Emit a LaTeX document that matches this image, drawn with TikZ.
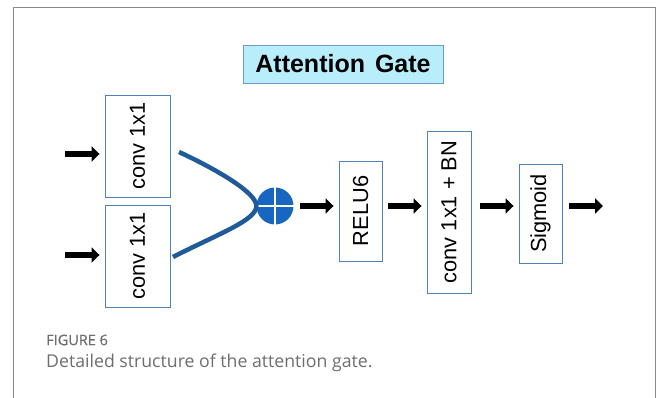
\documentclass[tikz,border=0pt]{standalone}
\usepackage{fontspec}
\usepackage{graphicx}
\setmainfont{Liberation Sans}
\newfontfamily\capfont{Open Sans}
\newfontfamily\capsemi[FakeBold=0.7]{Open Sans}
\usetikzlibrary{arrows.meta,calc}
\definecolor{boxline}{HTML}{4F81BD}
\definecolor{titlefill}{HTML}{B8EDFB}
\definecolor{curveblue}{HTML}{1F5A9A}
\definecolor{sumblue}{HTML}{1767C0}
\definecolor{frame}{HTML}{8A8A8A}
\definecolor{captxt}{HTML}{6E6E6E}
\tikzset{
  opbox/.style={draw=boxline, line width=0.9pt, fill=white, inner sep=0pt, font=\fontsize{21.8}{24}\selectfont},
  blockarrow/.style={line width=5.5pt, -{Triangle[length=8pt,width=15pt]}},
  joincurve/.style={draw=curveblue, line width=4.5pt},
}
\begin{document}
\begin{tikzpicture}[x=1pt,y=-1pt]
\useasboundingbox (0,0) rectangle (657,398);
% frame
\draw[frame, line width=1pt] (13,400) -- (13,8) -- (655.5,8) -- (655.5,400);
% title
\node[draw=boxline!80, line width=0.9pt, fill=titlefill, minimum width=200, minimum height=38, inner sep=0pt,
  font=\fontsize{25}{28}\selectfont\bfseries] (title) at (343,64) {Attention\hspace{3pt} Gate};
% boxes
\node[opbox, minimum width=65, minimum height=102] (conv1) at (137.5,146) {\rotatebox{90}{conv 1x1}};
\node[opbox, minimum width=65, minimum height=102] (conv2) at (137.5,256) {\rotatebox{90}{conv 1x1}};
\node[opbox, minimum width=43, minimum height=100] (relu) at (360.5,211) {\rotatebox{90}{RELU6}};
\node[opbox, minimum width=44, minimum height=162] (convbn) at (449,212) {\rotatebox{90}{conv 1x1 + BN}};
\node[opbox, minimum width=43, minimum height=99] (sig) at (540.5,213.5) {\rotatebox{90}{Sigmoid}};
% sum
\node[circle, fill=sumblue, minimum size=37, inner sep=0pt] (sum) at (275,206) {};
\draw[white, line width=2.5pt] (sum.north) -- (sum.south) (sum.west) -- (sum.east);
% join curve
\coordinate (c1) at (179,152);
\coordinate (c2) at (173,257);
\draw[joincurve] (c1) .. controls (222,172) and (257,194) .. (sum.west) .. controls (257,220) and (218,234) .. (c2);
% input arrows
\coordinate (in1) at (65,154);
\coordinate (in2) at (65,255);
\draw[blockarrow, shorten >=5pt] (in1) -- (in1 -| conv1.west);
\draw[blockarrow, shorten >=5pt] (in2) -- (in2 -| conv2.west);
% chain arrows
\draw[blockarrow, shorten <=6.5pt, shorten >=5pt] (sum.east) -- (sum.east -| relu.west);
\draw[blockarrow, shorten <=6pt, shorten >=5pt] (relu.east |- sum.east) -- (convbn.west |- sum.east);
\draw[blockarrow, shorten <=9pt, shorten >=5pt] (convbn.east |- sum.east) -- (sig.west |- sum.east);
\coordinate (out) at (603,206);
\draw[blockarrow, shorten <=7pt] (sig.east |- out) -- (out);
% caption
\node[anchor=west, inner sep=0pt, text=captxt, font=\capsemi\fontsize{14.5}{16}\selectfont] (fig) at (46,340) {FIGURE 6};
\node[anchor=west, inner sep=0pt, text=captxt, font=\capfont\fontsize{17.7}{20}\selectfont] (cap) at (46,363) {Detailed structure of the attention gate.};
\end{tikzpicture}
\end{document}
